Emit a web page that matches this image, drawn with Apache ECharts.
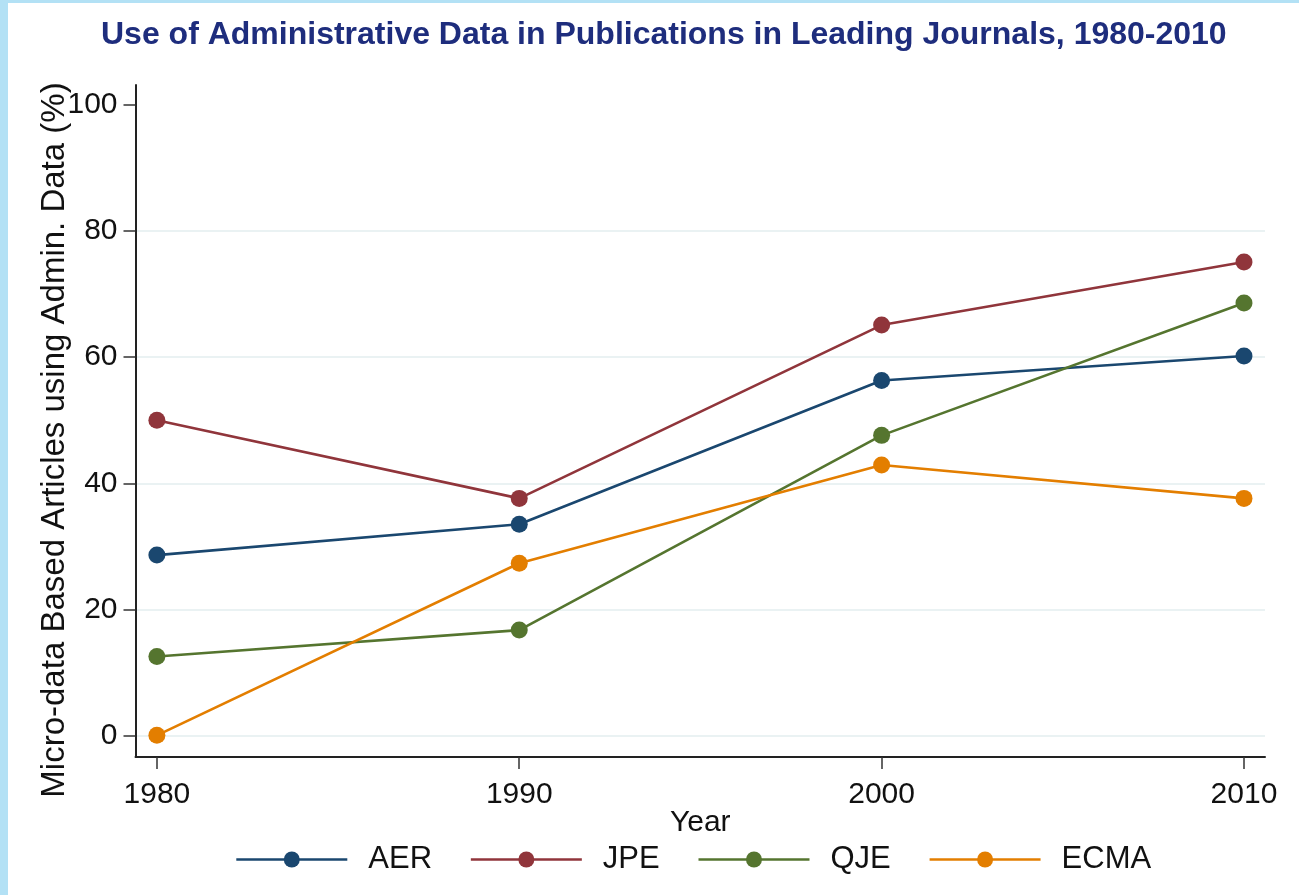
<!DOCTYPE html>
<html>
<head>
<meta charset="utf-8">
<script src="https://cdn.jsdelivr.net/npm/echarts@6/dist/echarts.min.js"></script>
<style>
  html, body { margin: 0; padding: 0; background: #fff; }
  #chart { width: 1299px; height: 895px; }
</style>
</head>
<body>
<div id="chart"></div>
<script>
// data
var years = [1980, 1990, 2000, 2010];
var aer = [28.6, 33.5, 56.3, 60.2];
var jpe = [50.0, 37.6, 65.1, 75.1];
var qje = [12.5, 16.7, 47.6, 68.6];
var ecma = [0, 27.3, 42.9, 37.6];
var yTicks = [0, 20, 40, 60, 80, 100];
var gridVals = [0, 20, 40, 60, 80];

var font = "'Liberation Sans', Arial, Helvetica, sans-serif";

function pairs(vals) {
  return years.map(function (y, i) { return [y, vals[i]]; });
}

function makeSeries(name, vals, color) {
  return {
    name: name,
    type: "line",
    data: pairs(vals),
    symbol: "circle",
    symbolSize: 17,
    lineStyle: { color: color, width: 2.6 },
    itemStyle: { color: color },
    emphasis: { disabled: true }
  };
}

var chart = echarts.init(document.getElementById("chart"));

var series = [
  makeSeries("AER", aer, "#1a476f"),
  makeSeries("JPE", jpe, "#90353b"),
  makeSeries("QJE", qje, "#55752f"),
  makeSeries("ECMA", ecma, "#e37e00")
];
// light grid lines (no line at 100, like the original)
series[0].markLine = {
  silent: true,
  symbol: "none",
  label: { show: false },
  lineStyle: { color: "#eaf2f3", width: 2, type: "solid" },
  data: gridVals.map(function (v) { return { yAxis: v }; }),
  z: 0
};

var option = {
  animation: false,
  backgroundColor: "#ffffff",
  title: {
    text: "Use of Administrative Data in Publications in Leading Journals, 1980-2010",
    left: 96,
    top: 14,
    textStyle: { fontFamily: font, fontSize: 32, fontWeight: "bold", color: "#1e2d7d" }
  },
  grid: { left: 135.5, right: 34, top: 85, bottom: 138, containLabel: false },
  xAxis: {
    type: "value",
    min: 1979.41,
    max: 2010.58,
    name: "Year",
    nameLocation: "middle",
    nameGap: 51,
    nameMoveOverlap: false,
    nameTextStyle: { fontFamily: font, fontSize: 30, color: "#111" },
    axisLine: { onZero: false, lineStyle: { color: "#222", width: 2 } },
    axisTick: { show: true, length: 12, lineStyle: { color: "#333", width: 1.5 }, customValues: years },
    axisLabel: {
      fontFamily: font, fontSize: 30, color: "#111", margin: 23, customValues: years,
      formatter: function (v) { return String(v); }
    },
    splitLine: { show: false }
  },
  yAxis: {
    type: "value",
    min: -3.44,
    max: 103.2,
    axisLine: { show: true, onZero: false, lineStyle: { color: "#222", width: 2 } },
    axisTick: { show: true, length: 12, lineStyle: { color: "#333", width: 1.5 }, customValues: yTicks },
    axisLabel: { fontFamily: font, fontSize: 30, color: "#111", margin: 18, customValues: yTicks },
    splitLine: { show: false }
  },
  legend: {
    left: 230,
    top: 839,
    itemWidth: 111,
    itemHeight: 20,
    itemGap: 37.5,
    lineStyle: { width: 2.6 },
    textStyle: { fontFamily: font, fontSize: 31, color: "#111", padding: [0, 0, 0, 16] },
    data: ["AER", "JPE", "QJE", "ECMA"]
  },
  graphic: [
    { type: "rect", left: 0, top: 0, shape: { width: 8, height: 895 }, style: { fill: "#b3e1f5" }, z: 10 },
    { type: "rect", left: 0, top: 0, shape: { width: 1299, height: 3 }, style: { fill: "#b3e1f5" }, z: 10 },
    {
      type: "text",
      x: 55,
      y: 440,
      rotation: Math.PI / 2,
      style: {
        text: "Micro-data Based Articles using Admin. Data (%)",
        fontFamily: font,
        fontSize: 33,
        fill: "#111",
        align: "center",
        verticalAlign: "middle"
      }
    }
  ],
  series: series
};

chart.setOption(option);
</script>
</body>
</html>
